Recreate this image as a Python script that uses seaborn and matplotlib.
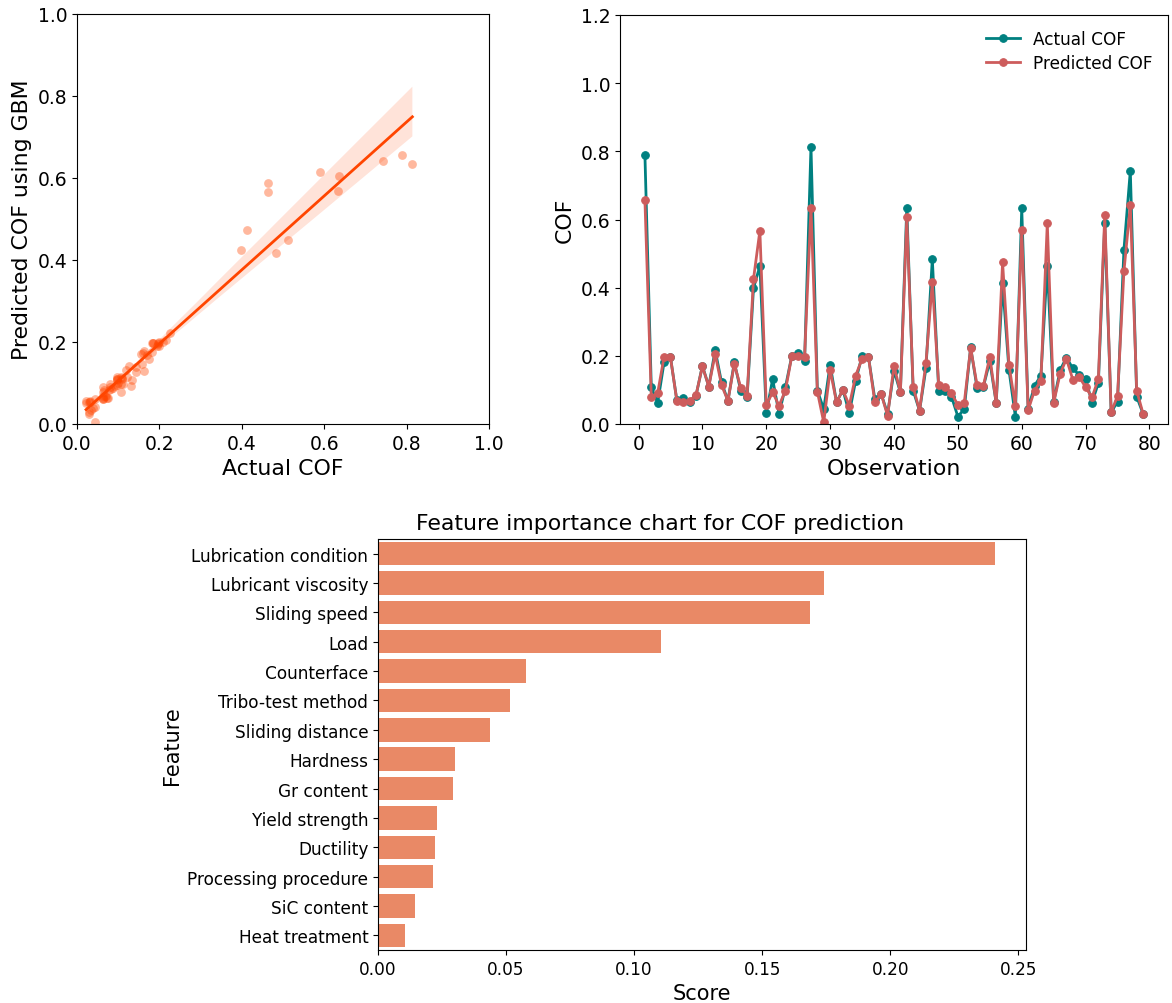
import numpy as np
import pandas as pd
import matplotlib
matplotlib.use("Agg")
import matplotlib.pyplot as plt
import seaborn as sns

# Actual vs GBM-predicted coefficient of friction for each test observation
observation = list(range(1, 80))
actual_cof = [
    0.790, 0.108, 0.062, 0.181, 0.196, 0.070, 0.075, 0.064, 0.083, 0.171,
    0.110, 0.217, 0.122, 0.068, 0.181, 0.098, 0.078, 0.398, 0.464, 0.032,
    0.132, 0.030, 0.108, 0.200, 0.208, 0.184, 0.814, 0.098, 0.044, 0.174,
    0.064, 0.100, 0.032, 0.127, 0.200, 0.197, 0.073, 0.088, 0.030, 0.156,
    0.093, 0.635, 0.098, 0.039, 0.163, 0.484, 0.098, 0.096, 0.080, 0.022,
    0.044, 0.225, 0.106, 0.110, 0.184, 0.062, 0.413, 0.159, 0.022, 0.633,
    0.044, 0.112, 0.142, 0.464, 0.064, 0.158, 0.195, 0.163, 0.144, 0.133,
    0.063, 0.120, 0.591, 0.034, 0.066, 0.511, 0.743, 0.080, 0.030,
]
predicted_cof = [
    0.657, 0.078, 0.091, 0.197, 0.196, 0.068, 0.064, 0.068, 0.085, 0.169,
    0.110, 0.205, 0.114, 0.068, 0.176, 0.107, 0.083, 0.425, 0.567, 0.056,
    0.093, 0.054, 0.098, 0.200, 0.200, 0.197, 0.635, 0.095, 0.005, 0.159,
    0.064, 0.100, 0.054, 0.142, 0.191, 0.197, 0.064, 0.088, 0.024, 0.171,
    0.093, 0.606, 0.109, 0.039, 0.178, 0.417, 0.114, 0.110, 0.090, 0.056,
    0.062, 0.223, 0.114, 0.112, 0.197, 0.062, 0.474, 0.174, 0.052, 0.569,
    0.041, 0.098, 0.127, 0.589, 0.062, 0.147, 0.191, 0.130, 0.138, 0.108,
    0.078, 0.132, 0.614, 0.034, 0.083, 0.448, 0.642, 0.098, 0.030,
]

# Feature importance scores of the GBM model
features = [
    "Lubrication condition", "Lubricant viscosity", "Sliding speed", "Load",
    "Counterface", "Tribo-test method", "Sliding distance", "Hardness",
    "Gr content", "Yield strength", "Ductility", "Processing procedure",
    "SiC content", "Heat treatment",
]
scores = [
    0.2409, 0.1740, 0.1686, 0.1103, 0.0578, 0.0516, 0.0437, 0.0302,
    0.0292, 0.0229, 0.0224, 0.0214, 0.0145, 0.0107,
]

cof_df = pd.DataFrame({"Observation": observation,
                       "Actual": actual_cof,
                       "Predicted": predicted_cof})
imp_df = pd.DataFrame({"Feature": features, "Score": scores})

W, H = 1172, 1004
fig = plt.figure(figsize=(W / 100, H / 100), dpi=100)


def axes_px(left, top, right, bottom):
    return fig.add_axes([left / W, 1 - bottom / H, (right - left) / W, (bottom - top) / H])


# --- Parity plot with regression fit ---
ax1 = axes_px(77, 15, 489, 425)
sns.regplot(data=cof_df, x="Actual", y="Predicted", ax=ax1, color="orangered",
            scatter_kws={"alpha": 0.38, "s": 40, "linewidths": 0},
            line_kws={"linewidth": 2})
ax1.set_xlim(0, 1)
ax1.set_ylim(0, 1)
ax1.set_xticks(np.arange(0, 1.01, 0.2))
ax1.set_yticks(np.arange(0, 1.01, 0.2))
ax1.set_xlabel("Actual COF", fontsize=15.8)
ax1.set_ylabel("Predicted COF using GBM", fontsize=15.8)
ax1.tick_params(labelsize=13.5)

# --- Actual vs predicted series ---
ax2 = axes_px(620, 16, 1168, 425)
sns.lineplot(data=cof_df, x="Observation", y="Actual", ax=ax2, color="teal",
             marker="o", markersize=5.5, markeredgecolor="teal", linewidth=2,
             label="Actual COF")
sns.lineplot(data=cof_df, x="Observation", y="Predicted", ax=ax2, color="indianred",
             marker="o", markersize=5.5, markeredgecolor="indianred", linewidth=2,
             label="Predicted COF")
ax2.set_ylim(0, 1.2)
ax2.set_yticks(np.arange(0, 1.21, 0.2))
ax2.set_xticks(range(0, 81, 10))
ax2.set_xlabel("Observation", fontsize=15.8)
ax2.set_ylabel("COF", fontsize=15.8)
ax2.tick_params(labelsize=13.5)
ax2.legend(loc="upper right", frameon=False, fontsize=12.2, labelspacing=0.35)

# --- Feature importance ---
ax3 = axes_px(378, 540, 1026, 951)
sns.barplot(data=imp_df, x="Score", y="Feature", ax=ax3, color="coral")
ax3.set_title("Feature importance chart for COF prediction", fontsize=15.8,
              x=(660 - 378) / (1026 - 378), pad=7)
ax3.set_xlabel("Score", fontsize=15)
ax3.set_ylabel("Feature", fontsize=15)
ax3.tick_params(labelsize=12.2)
ax3.set_xticks(np.arange(0, 0.251, 0.05))

fig.savefig("out.png", dpi=100)
